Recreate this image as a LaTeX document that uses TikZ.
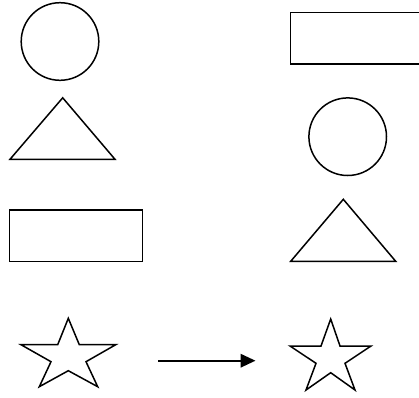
\documentclass[tikz,border=0pt]{standalone}
\usetikzlibrary{arrows.meta}
\begin{document}
\begin{tikzpicture}[x=1pt,y=-1pt,
  outl/.style={draw=black,line width=1.5pt,line join=miter},
  conn/.style={draw=black,line width=2pt,-{Triangle[length=15pt,width=13.5pt]}}]
\useasboundingbox (0,0) rectangle (419,397);
% left column
\draw[outl] (60,41.5) circle (38.8);
\draw[outl] (10,159.3) -- (115,159.3) -- (62.7,97.8) -- cycle;
\draw[outl] (9.5,210) rectangle (142.3,261.5);
\draw[outl] (68.3,318.3) -- (79.3,344.7) -- (115.7,344.7) -- (86,361.7) -- (97.7,386.7)
  -- (68.3,370.7) -- (39.3,386.7) -- (51,361.7) -- (21,344.7) -- (57.7,344.7) -- cycle;
% right column
\draw[outl] (290.3,12.3) rectangle (425,64);
\draw[outl] (347.7,136.7) circle (38.8);
\draw[outl] (290.7,261.3) -- (395.7,261.3) -- (343.3,199.3) -- cycle;
\draw[outl] (330.7,319) -- (340,346) -- (371,346) -- (345,363.3) -- (355,390)
  -- (330.7,372.7) -- (306,390) -- (316,363.3) -- (290,346) -- (321,346) -- cycle;
% arrow
\coordinate (a) at (158.3,360.7);
\coordinate (b) at (255.5,360.7);
\draw[conn] (a) -- (b);
\end{tikzpicture}
\end{document}
